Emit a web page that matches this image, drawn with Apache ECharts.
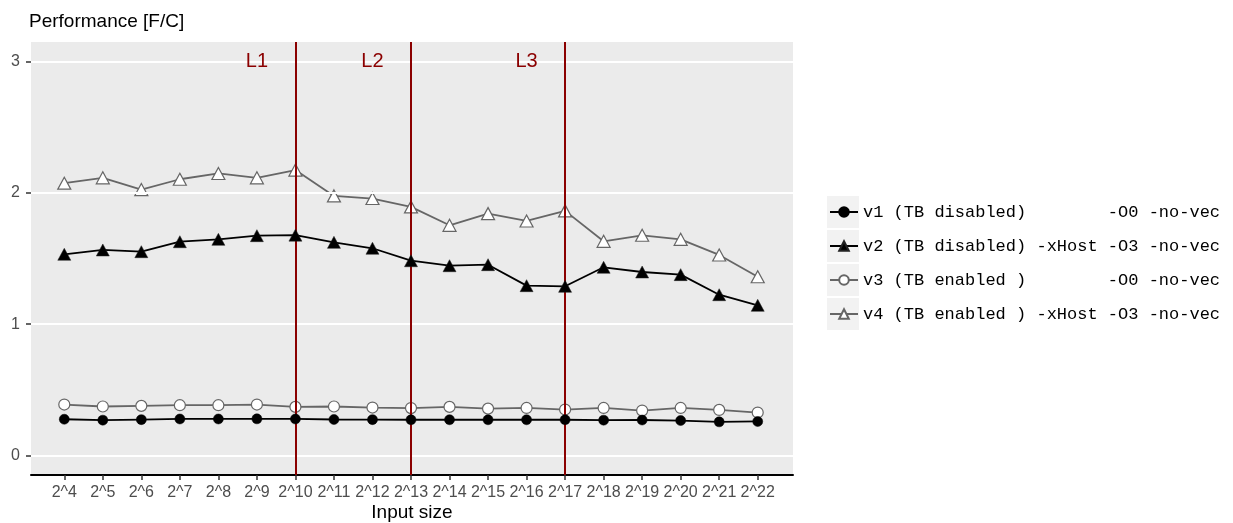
<!DOCTYPE html>
<html>
<head>
<meta charset="utf-8">
<script src="https://cdn.jsdelivr.net/npm/echarts@6/dist/echarts.min.js"></script>
<style>
  html, body { margin: 0; padding: 0; background: #fff; }
  #main { width: 1233px; height: 523px; }
</style>
</head>
<body>
<div id="main"></div>
<script>
var sizes = ['2^4', '2^5', '2^6', '2^7', '2^8', '2^9', '2^10', '2^11', '2^12', '2^13',
             '2^14', '2^15', '2^16', '2^17', '2^18', '2^19', '2^20', '2^21', '2^22'];

var v1 = [0.275, 0.268, 0.272, 0.277, 0.277, 0.278, 0.277, 0.273, 0.272, 0.271,
          0.271, 0.271, 0.271, 0.271, 0.268, 0.269, 0.265, 0.255, 0.258];
var v2 = [1.532, 1.565, 1.552, 1.628, 1.646, 1.674, 1.678, 1.623, 1.578, 1.483,
          1.445, 1.453, 1.293, 1.288, 1.433, 1.397, 1.377, 1.224, 1.143];
var v3 = [0.387, 0.372, 0.377, 0.382, 0.382, 0.387, 0.369, 0.372, 0.364, 0.360,
          0.369, 0.356, 0.361, 0.349, 0.361, 0.341, 0.361, 0.346, 0.326];
var v4 = [2.074, 2.115, 2.025, 2.104, 2.148, 2.115, 2.174, 1.977, 1.957, 1.893,
          1.753, 1.842, 1.786, 1.863, 1.631, 1.677, 1.646, 1.527, 1.361];

var seriesNames = [
    'v1 (TB disabled)        -O0 -no-vec',
    'v2 (TB disabled) -xHost -O3 -no-vec',
    'v3 (TB enabled )        -O0 -no-vec',
    'v4 (TB enabled ) -xHost -O3 -no-vec'
];

// cache boundaries and their labels
var cacheLines = ['2^10', '2^13', '2^17'];
var cacheLabels = ['L1', 'L2', 'L3'];
var cacheLabelAt = ['2^9', '2^12', '2^16'];
var cacheLabelY = 3;

var yTicks = [0, 1, 2, 3];

function toPairs(vals) {
    var out = [];
    for (var i = 0; i < vals.length; i++) {
        out.push([i, vals[i]]);
    }
    return out;
}

var tickIdx = [];
for (var i = 0; i < sizes.length; i++) tickIdx.push(i);

var red = '#8b0000';
var grey = '#666666';
var sans = 'Liberation Sans, Arial, Helvetica, sans-serif';
var mono = 'Liberation Mono, Courier New, monospace';

var chart = echarts.init(document.getElementById('main'));

var labelData = [];
for (var i = 0; i < cacheLabels.length; i++) {
    labelData.push({ name: cacheLabels[i], value: [sizes.indexOf(cacheLabelAt[i]), cacheLabelY] });
}

var option = {
    animation: false,
    backgroundColor: '#fff',
    title: {
        text: 'Performance [F/C]',
        left: 24, top: 7,
        textStyle: { fontFamily: sans, fontSize: 19, fontWeight: 'normal', color: '#000' }
    },
    grid: {
        left: 31, top: 42, width: 762, height: 433,
        outerBoundsMode: 'none',
        containLabel: false,
        show: true, backgroundColor: '#ebebeb', borderWidth: 0
    },
    legend: {
        orient: 'vertical',
        left: 824,
        top: 197,
        itemWidth: 28,
        itemHeight: 12,
        itemGap: 14,
        data: seriesNames,
        textStyle: { fontFamily: mono, fontSize: 17, color: '#000', lineHeight: 20 }
    },
    graphic: [0, 1, 2, 3].map(function (k) {
        return {
            type: 'rect', left: 827, top: 196 + k * 34, z: -1,
            shape: { width: 32, height: 32 },
            style: { fill: '#f2f2f2' }
        };
    }),
    xAxis: {
        type: 'value',
        min: -0.864,
        max: 18.916,
        name: 'Input size',
        nameLocation: 'middle',
        nameGap: 28,
        nameMoveOverlap: false,
        nameTextStyle: { fontFamily: sans, fontSize: 19, color: '#000' },
        axisLine: { show: true, onZero: false, lineStyle: { color: '#000', width: 2 } },
        axisTick: { show: true, customValues: tickIdx, length: 5, lineStyle: { color: '#333', width: 1.5 } },
        axisLabel: {
            customValues: tickIdx,
            fontFamily: sans, fontSize: 16, color: '#4d4d4d', margin: 10,
            formatter: function (v) { return sizes[Math.round(v)]; }
        },
        splitLine: { show: false }
    },
    yAxis: {
        type: 'value',
        min: -0.15,
        max: 3.15,
        axisLine: { show: true, onZero: false, lineStyle: { color: '#ebebeb', width: 0 } },
        axisTick: { show: true, customValues: yTicks, length: 5, lineStyle: { color: '#333', width: 1.5 } },
        axisLabel: { customValues: yTicks, fontFamily: sans, fontSize: 16, color: '#4d4d4d', margin: 11 },
        splitLine: { show: false }
    },
    series: [
        {
            name: 'grid',
            type: 'line',
            data: [],
            z: 1,
            silent: true,
            markLine: {
                silent: true,
                symbol: 'none',
                label: { show: false },
                lineStyle: { color: '#ffffff', width: 2, type: 'solid' },
                data: yTicks.map(function (t) { return { yAxis: t }; })
            }
        },
        {
            name: 'cache',
            type: 'line',
            data: [],
            z: 2,
            silent: true,
            markLine: {
                silent: true,
                symbol: 'none',
                label: { show: false },
                lineStyle: { color: red, width: 2, type: 'solid', opacity: 1 },
                data: cacheLines.map(function (c) { return { xAxis: sizes.indexOf(c) }; })
            }
        },
        {
            name: 'cacheLabels',
            type: 'scatter',
            z: 10,
            silent: true,
            symbolSize: 1,
            itemStyle: { color: 'rgba(0,0,0,0)' },
            data: labelData,
            label: {
                show: true, position: 'inside',
                formatter: '{b}',
                fontFamily: sans, fontSize: 20, color: red,
                opacity: 1,
                textBorderWidth: 0
            }
        },
        {
            name: seriesNames[0], type: 'line', z: 5, data: toPairs(v1),
            symbol: 'circle', symbolSize: 10,
            lineStyle: { color: '#000', width: 1.8 },
            itemStyle: { color: '#000', borderColor: '#000', borderWidth: 0.5 }
        },
        {
            name: seriesNames[1], type: 'line', z: 5, data: toPairs(v2),
            symbol: 'triangle', symbolSize: [13, 12],
            lineStyle: { color: '#000', width: 1.8 },
            itemStyle: { color: '#000', borderColor: '#222', borderWidth: 0.5 }
        },
        {
            name: seriesNames[2], type: 'line', z: 4, data: toPairs(v3),
            symbol: 'circle', symbolSize: 11,
            lineStyle: { color: grey, width: 1.8 },
            itemStyle: { color: '#fff', borderColor: grey, borderWidth: 1.2 }
        },
        {
            name: seriesNames[3], type: 'line', z: 4, data: toPairs(v4),
            symbol: 'triangle', symbolSize: [13, 12],
            lineStyle: { color: grey, width: 1.8 },
            itemStyle: { color: '#fff', borderColor: grey, borderWidth: 1.2 }
        }
    ]
};

chart.setOption(option);
</script>
</body>
</html>
